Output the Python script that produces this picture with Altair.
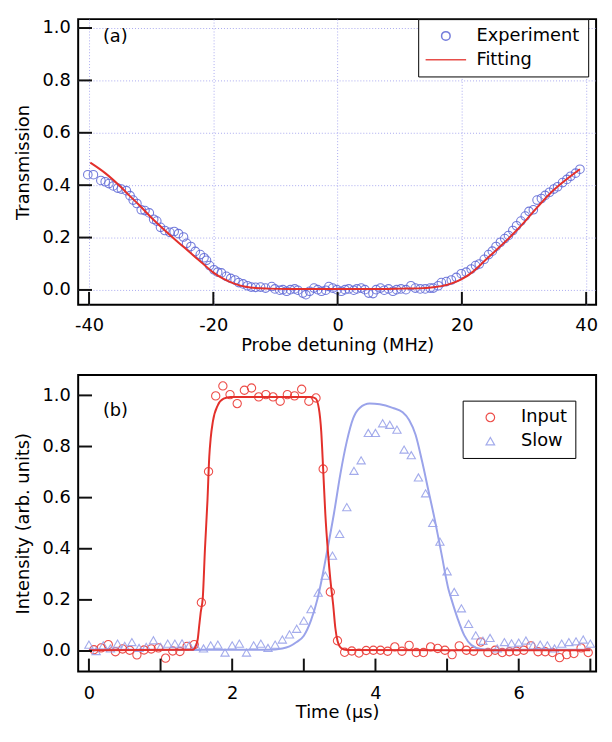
import altair as alt
import pandas as pd

FONT = "DejaVu Sans"

# ---------------- Panel (a) data ----------------
DET_EXP = [-40.2, -39.3, -38.1, -37.4, -36.8, -36.1, -35.4, -34.8, -34.0, -33.4,
           -32.9, -32.3, -31.6, -31.0, -30.3, -29.6, -29.1, -28.5, -27.8, -27.0,
           -26.3, -25.6, -24.8, -24.3, -23.6, -22.9, -22.1, -21.5, -21.1, -20.6,
           -19.9, -19.3, -18.7, -17.9, -17.2, -16.5, -15.9, -15.2, -14.5, -13.9,
           -13.2, -12.4, -11.6,
           -10.6, -10.1, -9.3, -8.8, -8.2, -7.6, -6.9, -6.4, -5.6, -5.1,
           -4.5, -3.8, -3.2, -2.6, -1.9, -1.4, -0.8, -0.1, 0.6, 1.2,
           1.8, 2.6, 3.1, 3.8, 4.4, 5.0, 5.7, 6.2, 6.9, 7.5, 8.2, 8.9, 9.5,
           10.2, 11.0, 11.8, 12.5, 13.3, 14.1, 14.9, 15.4, 16.2, 16.7,
           17.5, 18.3, 19.1, 19.9, 20.7, 21.5, 22.2, 22.8, 23.6, 24.3,
           24.9, 25.5, 26.2, 26.9, 27.5, 28.2, 28.8, 29.5, 30.2, 30.8,
           31.5, 32.1, 32.8, 33.4, 34.1, 34.8, 35.4, 36.2, 36.9, 37.5,
           38.3, 39.0]
TRANS_EXP = [0.440, 0.440, 0.418, 0.413, 0.406, 0.397, 0.389, 0.385, 0.379, 0.360,
             0.343, 0.330, 0.306, 0.303, 0.294, 0.270, 0.263, 0.239, 0.227, 0.220,
             0.223, 0.215, 0.202, 0.178, 0.166, 0.147, 0.135, 0.123, 0.113, 0.093,
             0.077, 0.068, 0.065, 0.052, 0.044, 0.038, 0.028, 0.023, 0.016, 0.011,
             0.010, 0.011, 0.007,
             0.013, 0.004, -0.001, 0.001, -0.005, 0.001, 0.004, -0.001, -0.012, -0.018,
             -0.005, 0.007, 0.001, -0.005, -0.001, 0.013, 0.007, 0.001, -0.005, 0.001,
             0.004, -0.001, 0.004, 0.007, 0.001, -0.012, -0.014, 0.001, 0.007, -0.001,
             0.004, -0.005, 0.001,
             0.004, 0.001, 0.016, 0.007, 0.004, 0.004, 0.007, 0.007, 0.016, 0.028,
             0.032, 0.038, 0.048, 0.062, 0.068, 0.080, 0.093, 0.099, 0.117, 0.135,
             0.148, 0.166, 0.182, 0.196, 0.208, 0.227, 0.245, 0.263, 0.282, 0.300,
             0.306, 0.343, 0.349, 0.361, 0.373, 0.385, 0.394, 0.410, 0.422, 0.434,
             0.446, 0.461]
DET_FIT = [-39.8, -37.4, -34.8, -33.5, -32.1, -29.5, -26.9, -24.3, -21.6, -20.1,
           -18.5, -16.4, -14.8, -13.2, -11.1, -8.0, 0.0, 8.0, 10.2, 13.0,
           15.4, 18.0, 19.9, 21.7, 23.8, 25.9, 28.0, 30.2, 32.3, 34.4, 36.5, 39.0]
TRANS_FIT = [0.486, 0.446, 0.391, 0.360, 0.328, 0.265, 0.208, 0.154, 0.099, 0.068,
             0.044, 0.022, 0.012, 0.007, 0.005, 0.004, 0.004, 0.004, 0.005, 0.006,
             0.010, 0.022, 0.040, 0.068, 0.114, 0.160, 0.208, 0.263, 0.320, 0.373,
             0.416, 0.461]
A_SERIES = ["Experiment", "Fitting"]
A_XTICKS = [-40, -20, 0, 20, 40]

# ---------------- Panel (b) data ----------------
T_INPUT = [0.07, 0.17, 0.27, 0.37, 0.47, 0.57, 0.67, 0.77, 0.87, 0.97,
           1.07, 1.17, 1.27, 1.37, 1.47, 1.57, 1.67, 1.77, 1.87, 1.97,
           2.07, 2.17, 2.27, 2.37, 2.47, 2.57, 2.67, 2.77, 2.87, 2.97,
           3.07, 3.17, 3.27, 3.37, 3.47, 3.57, 3.67, 3.77, 3.87, 3.97,
           4.07, 4.17, 4.27, 4.37, 4.47, 4.57, 4.67, 4.77, 4.87, 4.97,
           5.07, 5.17, 5.27, 5.37, 5.47, 5.57, 5.67, 5.77, 5.87, 5.97,
           6.07, 6.17, 6.27, 6.37, 6.47, 6.57, 6.67, 6.77, 6.87, 6.97]
I_INPUT = [0.005, 0.012, 0.025, -0.003, 0.008, 0.003, -0.015, 0.004, 0.008, 0.012,
           -0.028, 0.000, -0.002, 0.018, 0.025, 0.190, 0.702, 0.998, 1.037, 1.003,
           0.968, 1.020, 1.029, 0.994, 1.003, 0.994, 0.977, 1.003, 0.998, 1.024,
           0.977, 0.990, 0.712, 0.231, 0.040, -0.005, 0.000, -0.008, 0.002, 0.003,
           0.003, -0.001, 0.016, -0.001, 0.022, -0.006, -0.006, 0.016, 0.010, 0.003,
           -0.014, 0.020, 0.003, -0.001, 0.035, -0.006, 0.003, -0.006, -0.003, -0.001,
           0.003, 0.020, -0.003, -0.003, -0.006, -0.026, -0.014, -0.010, 0.012, -0.006]
T_SLOW = [0.0, 0.1, 0.2, 0.3, 0.4, 0.5, 0.6, 0.7, 0.8, 0.9,
          1.0, 1.1, 1.2, 1.3, 1.4, 1.5, 1.6, 1.7, 1.8, 1.9,
          2.0, 2.1, 2.2, 2.3, 2.4, 2.5, 2.6, 2.7, 2.8, 2.9,
          3.0, 3.1, 3.2, 3.3, 3.4, 3.5, 3.6, 3.7, 3.8, 3.9,
          4.0, 4.1, 4.2, 4.3, 4.4, 4.5, 4.6, 4.7, 4.8, 4.9,
          5.0, 5.1, 5.2, 5.3, 5.4, 5.5, 5.6, 5.7, 5.8, 5.9,
          6.0, 6.1, 6.2, 6.3, 6.4, 6.5, 6.6, 6.7, 6.8, 6.9, 7.0]
I_SLOW = [0.025, 0.000, 0.022, 0.010, 0.029, 0.020, 0.035, 0.012, 0.016, 0.042,
          0.016, 0.029, 0.029, 0.030, 0.022, 0.016, 0.010, 0.022, 0.025, -0.006,
          0.022, 0.029, -0.006, 0.022, 0.029, 0.012, 0.025, 0.045, 0.065, 0.087,
          0.119, 0.164, 0.228, 0.295, 0.373, 0.458, 0.563, 0.705, 0.746, 0.853,
          0.853, 0.891, 0.885, 0.866, 0.788, 0.766, 0.679, 0.617, 0.501, 0.428,
          0.312, 0.231, 0.167, 0.106, 0.061, 0.040, 0.051, 0.010, 0.035, 0.030,
          0.033, 0.041, 0.022, 0.025, 0.022, 0.010, 0.029, 0.035, 0.038, 0.045, 0.029]
T_INPUT_FIT = [0.0, 1.45, 1.50, 1.52, 1.54, 1.56, 1.59, 1.62, 1.655, 1.68,
               1.70, 1.73, 1.80, 1.88, 1.98, 3.10, 3.165, 3.21, 3.243, 3.27,
               3.30, 3.338, 3.37, 3.41, 3.44, 3.47, 3.52, 3.60, 7.0]
I_INPUT_FIT = [0.003, 0.005, 0.025, 0.048, 0.100, 0.150, 0.210, 0.400, 0.590, 0.760,
               0.833, 0.897, 0.962, 0.987, 0.994, 0.994, 0.988, 0.949, 0.859, 0.711,
               0.537, 0.383, 0.280, 0.180, 0.090, 0.040, 0.012, 0.004, 0.003]
T_SLOW_FIT = [0.0, 2.5, 2.7, 2.8, 2.9, 3.0, 3.1, 3.19, 3.25, 3.32,
              3.42, 3.51, 3.60, 3.69, 3.78, 3.92, 4.06, 4.24, 4.38, 4.47,
              4.56, 4.65, 4.74, 4.83, 4.92, 5.02, 5.06, 5.15, 5.24, 5.34,
              5.47, 5.6, 7.0]
I_SLOW_FIT = [0.005, 0.005, 0.010, 0.018, 0.035, 0.060, 0.120, 0.203, 0.280, 0.383,
              0.537, 0.692, 0.820, 0.911, 0.951, 0.968, 0.965, 0.951, 0.934, 0.904,
              0.846, 0.743, 0.627, 0.511, 0.383, 0.241, 0.203, 0.125, 0.061, 0.023,
              0.008, 0.005, 0.005]
B_SERIES = ["Input", "Slow"]
B_XTICKS = [0, 1, 2, 3, 4, 5, 6, 7]
Y_TICKS = [0.0, 0.2, 0.4, 0.6, 0.8, 1.0]
PANEL_LABELS = ["(a)", "(b)"]

# ---------------- styles ----------------
BLUE_A = "#5c66d6"
RED = "#e3302b"
RED_B = "#ec3a35"
BLUE_B = "#9aa3ea"
GRID = "#aaaaf0"
INK = "#111111"
W, HA, HB = 524, 289, 300
XA_DOM = [-41.75, 41.6]
YA_DOM = [-0.0566, 1.034]
XB_DOM = [-0.15, 7.08]
YB_DOM = [-0.08, 1.08]
XTICK_LEN, YTICK_LEN = 13, 14
LINE_SYMBOL = "M-4.73,0L4.73,0"


def tick_segments(xdom, ydom, h, xticks, yticks, xc, yc):
    """Short inward tick segments, expressed in data units of each scale."""
    dy = XTICK_LEN * (ydom[1] - ydom[0]) / h
    dx = YTICK_LEN * (xdom[1] - xdom[0]) / W
    rows = []
    for i, v in enumerate(xticks):
        rows += [{xc: v, yc: ydom[0], "k": f"x{i}"},
                 {xc: v, yc: ydom[0] + dy, "k": f"x{i}"}]
    for i, v in enumerate(yticks):
        rows += [{xc: xdom[0], yc: v, "k": f"y{i}"},
                 {xc: xdom[0] + dx, yc: v, "k": f"y{i}"}]
    return pd.DataFrame(rows)


# ---------------- panel (a) ----------------
exp_df = pd.DataFrame({"x": DET_EXP, "y": TRANS_EXP, "s": A_SERIES[0]})
fit_df = pd.DataFrame({"x": DET_FIT, "y": TRANS_FIT})

xa = alt.X("x:Q", scale=alt.Scale(domain=XA_DOM, nice=False, zero=False),
           axis=alt.Axis(values=A_XTICKS, labelExpr="'' + datum.value",
                         title="Probe detuning (MHz)", ticks=False, domain=False,
                         labelPadding=12, titlePadding=2, grid=True,
                         gridColor=GRID, gridDash=[1, 2], gridWidth=1))
ya = alt.Y("y:Q", scale=alt.Scale(domain=YA_DOM, nice=False, zero=False),
           axis=alt.Axis(values=Y_TICKS, format=".1f", title="Transmission",
                         ticks=False, domain=False, labelPadding=8, titlePadding=10,
                         grid=True, gridColor=GRID, gridDash=[1, 2], gridWidth=1))

leg_a = alt.Legend(title=None, orient="none", legendX=344, legendY=0,
                   strokeColor="black", padding=8, symbolOffset=11,
                   labelOffset=22, labelFont=FONT, labelFontSize=18,
                   labelColor="black", rowPadding=6, symbolSize=75,
                   symbolStrokeWidth=1.5, fillColor="white")

pts_a = alt.Chart(exp_df).mark_point(filled=False, size=75, strokeWidth=1.1,
                                     opacity=0.85).encode(
    x=xa, y=ya,
    color=alt.Color("s:N", scale=alt.Scale(domain=A_SERIES, range=[BLUE_A, RED]),
                    legend=leg_a),
    shape=alt.Shape("s:N", scale=alt.Scale(domain=A_SERIES,
                                           range=["circle", LINE_SYMBOL]),
                    legend=leg_a),
)
fit_a = alt.Chart(fit_df).mark_line(color=RED, strokeWidth=2,
                                    interpolate="monotone").encode(x=xa, y=ya)
ticks_a = alt.Chart(tick_segments(XA_DOM, YA_DOM, HA, A_XTICKS, Y_TICKS, "x", "y")
                    ).mark_line(color=INK, strokeWidth=2).encode(
    x=xa, y=ya, detail="k:N")
lab_a = alt.Chart(alt.Data(values=[{"t": PANEL_LABELS[0]}])).mark_text(
    align="left", baseline="alphabetic", font=FONT, fontSize=18,
    color="black").encode(x=alt.value(25), y=alt.value(23), text="t:N")

top = alt.layer(pts_a, fit_a, ticks_a, lab_a).properties(
    width=W, height=HA,
    view=alt.ViewBackground(stroke="black", strokeWidth=2))

# ---------------- panel (b) ----------------
b_df = pd.concat([
    pd.DataFrame({"t": T_INPUT, "v": I_INPUT, "s": B_SERIES[0]}),
    pd.DataFrame({"t": T_SLOW, "v": I_SLOW, "s": B_SERIES[1]}),
])
in_fit = pd.DataFrame({"t": T_INPUT_FIT, "v": I_INPUT_FIT})
sl_fit = pd.DataFrame({"t": T_SLOW_FIT, "v": I_SLOW_FIT})

xb = alt.X("t:Q", scale=alt.Scale(domain=XB_DOM, nice=False, zero=False),
           axis=alt.Axis(values=B_XTICKS,
                         labelExpr="datum.value % 2 == 0 ? '' + datum.value : ''",
                         title="Time (μs)", ticks=False, domain=False, grid=False,
                         labelPadding=13, titlePadding=2))
yb = alt.Y("v:Q", scale=alt.Scale(domain=YB_DOM, nice=False, zero=False),
           axis=alt.Axis(values=Y_TICKS, format=".1f",
                         title="Intensity (arb. units)", ticks=False, domain=False,
                         grid=False, labelPadding=8, titlePadding=10))

leg_b = alt.Legend(title=None, orient="none", legendX=389, legendY=26,
                   strokeColor="black", padding=8, symbolOffset=11,
                   labelOffset=22, labelFont=FONT, labelFontSize=18,
                   labelColor="black", rowPadding=6, symbolSize=75,
                   symbolStrokeWidth=1.2, fillColor="white")

pts_b = alt.Chart(b_df).mark_point(filled=False, size=70, strokeWidth=1.1,
                                   opacity=0.9).encode(
    x=xb, y=yb,
    color=alt.Color("s:N", scale=alt.Scale(domain=B_SERIES, range=[RED_B, BLUE_B]),
                    legend=leg_b),
    shape=alt.Shape("s:N", scale=alt.Scale(domain=B_SERIES,
                                           range=["circle", "triangle-up"]),
                    legend=leg_b),
)
fit_sl = alt.Chart(sl_fit).mark_line(color=BLUE_B, strokeWidth=2,
                                     interpolate="monotone").encode(x=xb, y=yb)
fit_in = alt.Chart(in_fit).mark_line(color=RED, strokeWidth=2,
                                     interpolate="monotone").encode(x=xb, y=yb)
ticks_b = alt.Chart(tick_segments(XB_DOM, YB_DOM, HB, B_XTICKS, Y_TICKS, "t", "v")
                    ).mark_line(color=INK, strokeWidth=2).encode(
    x=xb, y=yb, detail="k:N")
lab_b = alt.Chart(alt.Data(values=[{"t": PANEL_LABELS[1]}])).mark_text(
    align="left", baseline="alphabetic", font=FONT, fontSize=18,
    color="black").encode(x=alt.value(25), y=alt.value(42), text="t:N")

bottom = alt.layer(pts_b, fit_sl, fit_in, ticks_b, lab_b).properties(
    width=W, height=HB,
    view=alt.ViewBackground(stroke="black", strokeWidth=2))

chart = alt.vconcat(top, bottom, spacing=71, bounds="flush").resolve_scale(
    x="independent", y="independent", color="independent", shape="independent"
).configure_view(stroke=None).configure_axis(
    labelFont=FONT, labelFontSize=18, titleFont=FONT, titleFontSize=18,
    titleFontWeight="normal", labelColor="black", titleColor="black"
)

chart.save("out.html", embed_options={"renderer": "svg", "actions": False})
